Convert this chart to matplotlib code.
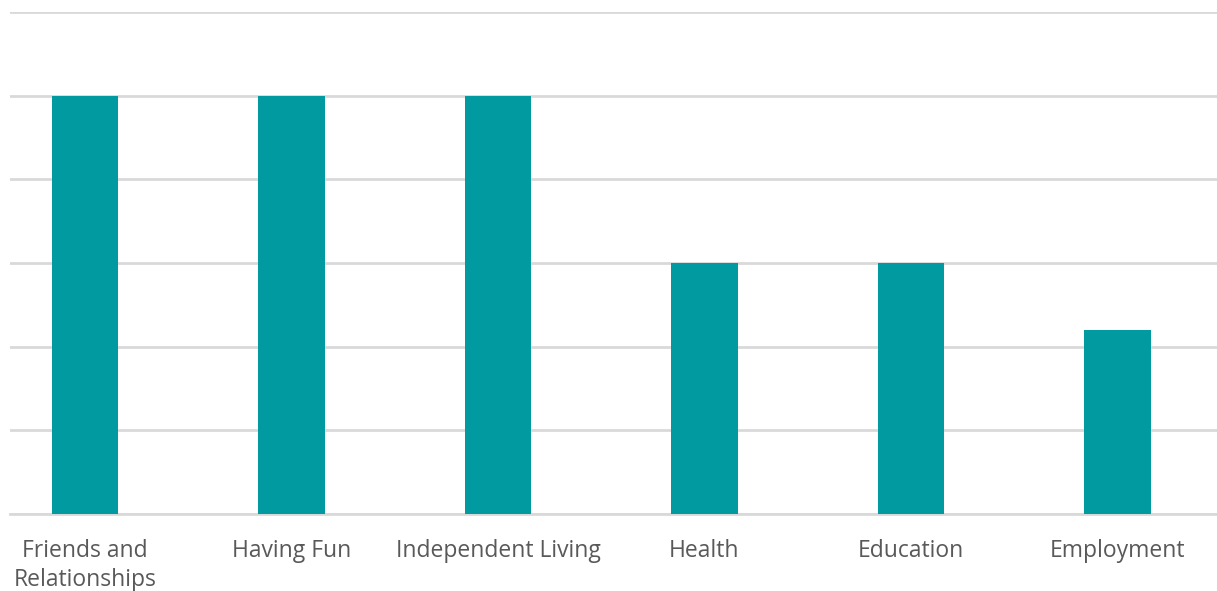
import matplotlib
matplotlib.use("Agg")
import matplotlib.pyplot as plt
import numpy as np

# chart data
categories = ["Friends and\nRelationships", "Having Fun", "Independent Living",
              "Health", "Education", "Employment"]
values = [5, 5, 5, 3, 3, 2.2]

bar_color = "#009aa0"
grid_color = "#d9d9d9"
text_color = "#595959"

fig = plt.figure(figsize=(12.17, 5.91), dpi=100)
ax = fig.add_axes([10 / 1217, 1 - 514 / 591, 1 - 10 / 1217, (514 - 12) / 591])

x = np.arange(len(categories))
ax.bar(x, values, width=0.32, color=bar_color, zorder=3)

ax.set_ylim(0, 6)
ax.set_xlim(-0.363, 5.482)
ax.set_yticks(np.arange(0, 7, 1))
ax.yaxis.grid(True, color=grid_color, linewidth=2)
ax.set_axisbelow(True)
ax.tick_params(axis="y", left=False, labelleft=False)

ax.set_xticks(x)
ax.set_xticklabels(categories, fontsize=16.5, color=text_color,
                   family=["Open Sans", "DejaVu Sans"], linespacing=1.27)
ax.tick_params(axis="x", length=0, pad=18)

for s in ["top", "right", "left"]:
    ax.spines[s].set_visible(False)
ax.spines["bottom"].set_color(grid_color)
ax.spines["bottom"].set_linewidth(2)

fig.savefig("out.png", dpi=100)
